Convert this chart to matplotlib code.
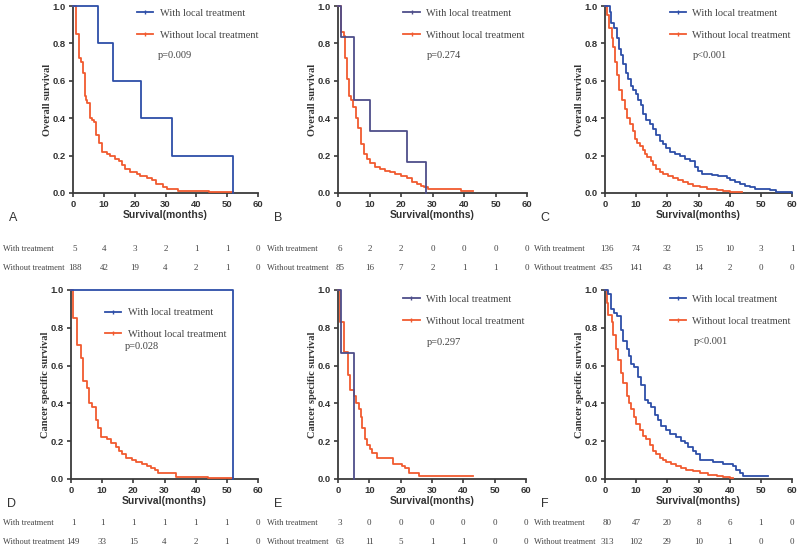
import matplotlib
matplotlib.use("Agg")
import matplotlib.pyplot as plt
from matplotlib.lines import Line2D

# ---- data (step points of the KM curves) ----
a_with_t = [0, 8, 13, 22, 32, 52]
a_with_s = [1.0, 0.8, 0.6, 0.4, 0.2, 0.0]
a_wo_t = [0, 1, 2, 2.7, 3.2, 3.8, 4.3, 4.7, 5.4, 6.1, 6.9, 7.5, 8.4, 9.4, 11, 12, 13.7, 14.8, 15.8, 16.9,
          18.5, 20.7, 21.8, 24, 25.5, 27, 29.3, 30.4, 34, 44, 52]
a_wo_s = [1.0, 0.85, 0.72, 0.70, 0.64, 0.52, 0.50, 0.48, 0.40, 0.39, 0.38, 0.31, 0.27, 0.22, 0.21, 0.20,
          0.18, 0.17, 0.15, 0.13, 0.11, 0.10, 0.09, 0.08, 0.07, 0.05, 0.03, 0.02, 0.01, 0.005, 0.005]

b_with_t = [0, 1, 5, 10, 22, 28]
b_with_s = [1.0, 0.833, 0.5, 0.333, 0.167, 0.0]
b_wo_t = [0, 0.85, 1.8, 2.1, 2.9, 3.5, 4.2, 4.8, 5.6, 6.4, 7.4, 8.3, 9.2, 10.1, 11.7, 13.3, 14.9, 16.5, 18, 20,
          21.8, 23.4, 25, 26.5, 27.3, 28.7, 39, 43]
b_wo_s = [1.0, 0.86, 0.84, 0.72, 0.61, 0.52, 0.50, 0.46, 0.40, 0.35, 0.26, 0.21, 0.18, 0.16, 0.14, 0.13, 0.12,
          0.11, 0.10, 0.09, 0.08, 0.06, 0.05, 0.04, 0.03, 0.02, 0.01, 0.01]

c_with_t = [0, 1.5, 1.9, 2.9, 3.7, 4.6, 5, 5.9, 6.7, 7.5, 8.2, 9.1, 9.9, 10.7, 11.5, 12.3, 13.1, 14.4, 15.5,
            16.5, 17.8, 18.7, 19.7, 20.8, 22.4, 24, 25.6, 27.2, 28.8, 29.9, 31, 34.2, 36.3, 39, 40, 41.6, 43.2,
            44.8, 46.4, 48, 52.8, 55, 60]
c_with_s = [1.0, 0.97, 0.91, 0.88, 0.83, 0.77, 0.74, 0.69, 0.64, 0.61, 0.57, 0.55, 0.53, 0.50, 0.47, 0.42,
            0.39, 0.37, 0.34, 0.31, 0.28, 0.26, 0.24, 0.22, 0.21, 0.20, 0.18, 0.17, 0.14, 0.12, 0.10, 0.095,
            0.09, 0.08, 0.07, 0.06, 0.05, 0.04, 0.03, 0.02, 0.015, 0.005, 0.0]
c_wo_t = [0, 0.7, 1.2, 2.1, 2.7, 3.2, 3.9, 4.6, 5.3, 6.4, 7.2, 8, 8.9, 9.6, 10.4, 11.2, 12.1, 12.8, 13.6, 14.6,
          15.5, 16.5, 17.6, 18.7, 20.3, 21.9, 23.5, 25.1, 26.7, 28.3, 30.4, 32.6, 35.8, 37.9, 40, 44]
c_wo_s = [1.0, 0.95, 0.88, 0.83, 0.78, 0.70, 0.63, 0.55, 0.50, 0.45, 0.40, 0.37, 0.33, 0.29, 0.27, 0.25, 0.23,
          0.21, 0.19, 0.17, 0.15, 0.13, 0.11, 0.10, 0.09, 0.08, 0.07, 0.06, 0.05, 0.04, 0.03, 0.02, 0.015,
          0.01, 0.005, 0.005]

d_with_t = [0, 52]
d_with_s = [1.0, 0.0]
d_wo_t = [0, 0.7, 2, 3.1, 3.9, 5, 5.7, 6.8, 7.9, 8.6, 9.5, 11.4, 12.7, 14.3, 15.3, 16.4, 17.8, 19.6, 21, 22.8,
          24.4, 25.6, 27, 27.8, 33.7, 44, 52]
d_wo_s = [1.0, 0.85, 0.71, 0.64, 0.52, 0.48, 0.40, 0.38, 0.31, 0.27, 0.22, 0.21, 0.19, 0.17, 0.15, 0.13, 0.11,
          0.10, 0.09, 0.08, 0.07, 0.06, 0.05, 0.03, 0.01, 0.005, 0.005]

e_with_t = [0, 1, 5]
e_with_s = [1.0, 0.667, 0.0]
e_wo_t = [0, 0.75, 2, 3.1, 3.7, 5, 5.2, 5.8, 6.6, 7.3, 7.7, 8.7, 9.4, 10.3, 10.8, 12.4, 17.7, 20.4, 21.4, 22.5,
          25.7, 43.2]
e_wo_s = [1.0, 0.83, 0.67, 0.55, 0.47, 0.45, 0.44, 0.40, 0.37, 0.33, 0.27, 0.21, 0.18, 0.16, 0.14, 0.11, 0.08,
          0.07, 0.06, 0.03, 0.015, 0.015]

f_with_t = [0, 1.1, 1.8, 2.9, 3.9, 5, 5.9, 6.9, 7.8, 8.5, 9.3, 10.7, 11.7, 12.8, 13.9, 14.9, 16, 17.1, 18.1,
            19.7, 20.8, 22.9, 24.5, 25.6, 26.7, 28.3, 29.3, 30.4, 34.6, 37.8, 41, 42.1, 43.2, 44.2, 52.2]
f_with_s = [1.0, 0.98, 0.90, 0.88, 0.86, 0.79, 0.73, 0.69, 0.65, 0.61, 0.59, 0.54, 0.50, 0.42, 0.40, 0.38,
            0.34, 0.31, 0.28, 0.26, 0.24, 0.22, 0.20, 0.19, 0.17, 0.15, 0.13, 0.10, 0.09, 0.08, 0.07, 0.05,
            0.03, 0.015, 0.015]
f_wo_t = [0, 0.7, 1.1, 2.1, 2.7, 3.5, 4.3, 5.1, 5.9, 6.9, 7.8, 8.5, 9.3, 10.1, 11.2, 12.3, 13.3, 14.4, 15.5,
          16.5, 17.6, 18.7, 19.7, 21.3, 22.9, 24.5, 26.1, 28.3, 30.4, 33, 35.8, 37.8, 40, 41]
f_wo_s = [1.0, 0.93, 0.87, 0.83, 0.76, 0.69, 0.63, 0.56, 0.51, 0.44, 0.40, 0.37, 0.33, 0.29, 0.26, 0.23, 0.21,
          0.18, 0.15, 0.13, 0.11, 0.10, 0.09, 0.08, 0.07, 0.06, 0.05, 0.04, 0.03, 0.02, 0.015, 0.01, 0.005,
          0.005]

# numbers at risk at 0,10,...,60 months
risk_times = [0, 10, 20, 30, 40, 50, 60]
a_risk_with = [5, 4, 3, 2, 1, 1, 0]
a_risk_wo = [188, 42, 19, 4, 2, 1, 0]
b_risk_with = [6, 2, 2, 0, 0, 0, 0]
b_risk_wo = [85, 16, 7, 2, 1, 1, 0]
c_risk_with = [136, 74, 32, 15, 10, 3, 1]
c_risk_wo = [435, 141, 43, 14, 2, 0, 0]
d_risk_with = [1, 1, 1, 1, 1, 1, 0]
d_risk_wo = [149, 33, 15, 4, 2, 1, 0]
e_risk_with = [3, 0, 0, 0, 0, 0, 0]
e_risk_wo = [63, 11, 5, 1, 1, 0, 0]
f_risk_with = [80, 47, 20, 8, 6, 1, 0]
f_risk_wo = [313, 102, 29, 10, 1, 0, 0]

p_values = ["p=0.009", "p=0.274", "p<0.001", "p=0.028", "p=0.297", "p<0.001"]
panel_letters = ["A", "B", "C", "D", "E", "F"]
y_labels = ["Overall survival"] * 3 + ["Cancer specific survival"] * 3

BLUE = "#2d4ea8"
SLATE = "#4e4e8a"
RED = "#f15a2f"
AX = "#3a3a3a"
TXT = "#444444"
SERIF = "Liberation Serif"
SANS = "Liberation Sans"

W, H = 800, 552
fig = plt.figure(figsize=(8, 5.52), dpi=100)
fig.patch.set_facecolor("white")

# axes boxes in pixels: left, top, right, bottom
boxes = [(73, 6, 258, 193), (338, 6, 527, 193), (605, 6, 792, 193),
         (71, 290, 258, 479), (338, 290, 526, 479), (605, 290, 792, 479)]

panels = [
    (a_with_t, a_with_s, a_wo_t, a_wo_s, BLUE, a_risk_with, a_risk_wo),
    (b_with_t, b_with_s, b_wo_t, b_wo_s, SLATE, b_risk_with, b_risk_wo),
    (c_with_t, c_with_s, c_wo_t, c_wo_s, BLUE, c_risk_with, c_risk_wo),
    (d_with_t, d_with_s, d_wo_t, d_wo_s, BLUE, d_risk_with, d_risk_wo),
    (e_with_t, e_with_s, e_wo_t, e_wo_s, SLATE, e_risk_with, e_risk_wo),
    (f_with_t, f_with_s, f_wo_t, f_wo_s, BLUE, f_risk_with, f_risk_wo),
]

# legend anchor (axes fraction) per panel, p-value position
leg_pos = [(0.345, 0.985), (0.345, 0.985), (0.345, 0.985),
           (0.18, 0.905), (0.345, 0.975), (0.345, 0.975)]
p_pos = [(0.46, 0.735), (0.47, 0.735), (0.47, 0.735),
         (0.29, 0.70), (0.475, 0.72), (0.475, 0.73)]

label_x = [3, 267, 534]
risk_rows_top = [249, 268]
risk_rows_bot = [523, 542]

for i, (wt, ws, ot, os_, wcol, rw, ro) in enumerate(panels):
    l, t, r, b = boxes[i]
    ax = fig.add_axes([l / W, 1 - b / H, (r - l) / W, (b - t) / H])
    ax.step(ot, os_, where="post", color=RED, lw=1.3, clip_on=False, zorder=3)
    ax.step(wt, ws, where="post", color=wcol, lw=1.3, clip_on=False, zorder=4)
    ax.set_xlim(0, 60)
    ax.set_ylim(0, 1.0)
    ax.set_xticks(range(0, 61, 10))
    ax.set_yticks([0, 0.2, 0.4, 0.6, 0.8, 1.0])
    ax.set_yticklabels(["0.0", "0.2", "0.4", "0.6", "0.8", "1.0"])
    for s in ("top", "right"):
        ax.spines[s].set_visible(False)
    for s in ("left", "bottom"):
        ax.spines[s].set_color(AX)
        ax.spines[s].set_linewidth(1.3)
    ax.tick_params(direction="out", length=3, width=1.2, color=AX, pad=2,
                   labelsize=6.8, labelcolor="#333333")
    for lab in ax.get_xticklabels() + ax.get_yticklabels():
        lab.set_fontfamily(SANS)
        lab.set_fontweight("bold")

    ax.set_xlabel("Survival(months)", fontsize=7.5, fontweight="bold", family=SANS, color="#333333")
    ax.xaxis.set_label_coords(0.5, -17 / (b - t))
    ax.set_ylabel(y_labels[i], fontsize=7.5, fontweight="bold", family=SERIF, color="#333333")
    ax.yaxis.set_label_coords(-21 / (r - l), 0.5)

    handles = [Line2D([], [], color=wcol, lw=1.3, marker="|", markersize=3),
               Line2D([], [], color=RED, lw=1.3, marker="|", markersize=3)]
    leg = ax.legend(handles, ["With local treatment", "Without local treatment"],
                    loc="upper left", bbox_to_anchor=leg_pos[i], frameon=False,
                    prop={"family": SERIF, "size": 7.5}, handlelength=1.6,
                    handletextpad=0.6, labelspacing=1.2, borderpad=0, borderaxespad=0)
    for txt in leg.get_texts():
        txt.set_color(TXT)
    ax.text(p_pos[i][0], p_pos[i][1], p_values[i], transform=ax.transAxes,
            family=SERIF, fontsize=7.5, color=TXT, va="center", ha="left")

    # panel letter
    fig.text((l - 60) / W, 1 - (b + 25) / H, panel_letters[i], family=SANS,
             fontsize=9, color="#333333", ha="center", va="center")

    # numbers at risk
    rows = risk_rows_top if i < 3 else risk_rows_bot
    col = i % 3
    fig.text(label_x[col] / W, 1 - rows[0] / H, "With treatment", family=SERIF,
             fontsize=6.0, color=TXT, va="center", ha="left")
    fig.text(label_x[col] / W, 1 - rows[1] / H, "Without treatment", family=SERIF,
             fontsize=6.0, color=TXT, va="center", ha="left")
    for rt, n1, n2 in zip(risk_times, rw, ro):
        ax.annotate(str(n1), xy=(rt, 1 - rows[0] / H), xycoords=("data", "figure fraction"),
                    xytext=(1.5 if rt == 0 else 0, 0), textcoords="offset points",
                    family=SERIF, fontsize=6.5, color=TXT, ha="center", va="center",
                    annotation_clip=False)
        ax.annotate(str(n2), xy=(rt, 1 - rows[1] / H), xycoords=("data", "figure fraction"),
                    xytext=(1.5 if rt == 0 else 0, 0), textcoords="offset points",
                    family=SERIF, fontsize=6.5, color=TXT, ha="center", va="center",
                    annotation_clip=False)

fig.savefig("out.png", dpi=100, facecolor="white")
